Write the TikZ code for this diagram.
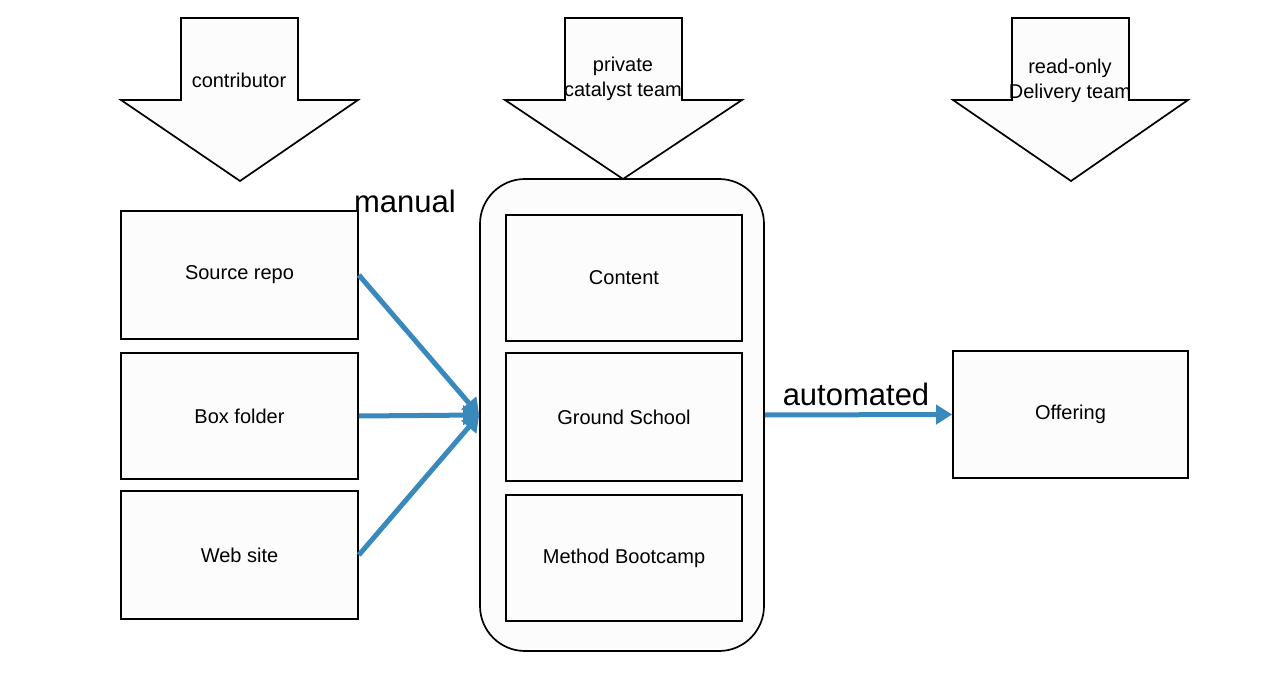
\documentclass[tikz,border=0pt]{standalone}
\usepackage{fontspec}
\setmainfont{Liberation Sans}
\usetikzlibrary{arrows.meta}
\definecolor{flowblue}{RGB}{58,137,189}
\definecolor{boxfill}{RGB}{252,252,252}
\tikzset{
  box/.style={draw=black, line width=1.7pt, fill=boxfill, font=\fontsize{20}{24}\selectfont, inner sep=0pt},
  bigarrow/.style={draw=black, line width=1.7pt, fill=boxfill, line join=miter},
  arrowlabel/.style={font=\fontsize{20}{25}\selectfont, align=center, inner sep=0pt},
  flow/.style={draw=flowblue, line width=5pt, -{Triangle[length=16pt,width=19pt]}},
  flowlabel/.style={font=\fontsize{31}{36}\selectfont, inner sep=0pt}
}
\begin{document}
\begin{tikzpicture}[x=1pt,y=-1pt]
\useasboundingbox (0,0) rectangle (1278,698);
% top block arrows
\draw[bigarrow] (181,18) -- (298,18) -- (298,100) -- (358,100) -- (240,181) -- (121,100) -- (181,100) -- cycle;
\node[arrowlabel] (lcontrib) at (239,80) {contributor};
\draw[bigarrow] (565,18) -- (682,18) -- (682,100) -- (742,100) -- (623,179) -- (505,100) -- (565,100) -- cycle;
\node[arrowlabel] (lcatalyst) at (623,79) {private\\catalyst team};
\draw[bigarrow] (1012,18) -- (1129,18) -- (1129,100) -- (1188,100) -- (1071,181) -- (953,100) -- (1012,100) -- cycle;
\node[arrowlabel] (ldelivery) at (1070,81) {read-only\\Delivery team};
% left boxes
\node[box, minimum width=237pt, minimum height=128pt] (src) at (239.5,275) {Source repo};
\node[box, minimum width=237pt, minimum height=126pt] (boxf) at (239.5,416) {Box folder};
\node[box, minimum width=237pt, minimum height=128pt] (web) at (239.5,555) {Web site};
% container
\node[box, rounded corners=45pt, minimum width=284pt, minimum height=472pt] (cont) at (622,415) {};
\node[box, minimum width=236pt, minimum height=126pt] (content) at (624,278) {Content};
\node[box, minimum width=236pt, minimum height=128pt] (ground) at (624,417) {Ground School};
\node[box, minimum width=236pt, minimum height=126pt] (method) at (624,558) {Method Bootcamp};
% offering
\node[box, minimum width=235pt, minimum height=127pt] (offer) at (1070.5,414.5) {Offering};
% connectors
\draw[flow] (src.east) -- (cont.west);
\draw[flow] (boxf.east) -- (cont.west);
\draw[flow] (web.east) -- (cont.west);
\draw[flow] (cont.east) -- (offer.west);
\node[flowlabel] (lmanual) at (405,201) {manual};
\node[flowlabel] (lauto) at (856,394) {automated};
\end{tikzpicture}
\end{document}
